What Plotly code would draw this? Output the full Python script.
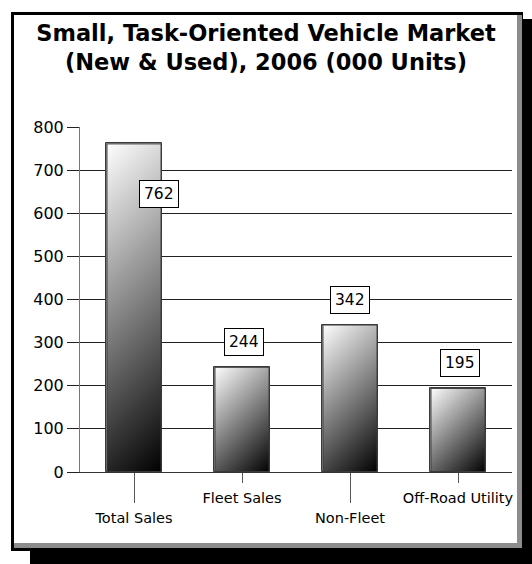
import base64
import plotly.graph_objects as go

# ---- data ----
categories = ["Total Sales", "Fleet Sales", "Non-Fleet", "Off-Road Utility"]
values = [762, 244, 342, 195]
y_tick_values = [0, 100, 200, 300, 400, 500, 600, 700, 800]
title_lines = ["Small, Task-Oriented Vehicle Market", "(New & Used), 2006 (000 Units)"]

# ---- layout constants ----
W, H = 532, 564
M_L, M_R, M_T, M_B = 80, 20, 127, 92
PW = W - M_L - M_R
PH = H - M_T - M_B
Y_MAX = 800
BAR_W = 0.51
FONT = "DejaVu Sans"

# label offsets (pixels) per category: (xshift, yshift)
label_offsets = [(25, -51), (2, 25), (0, 25), (2, 25)]


def px_x(px):
    return (px - M_L) / PW


def px_y(py):
    return (H - M_B - py) / PH


def grad_uri(v):
    w = BAR_W * PW / len(categories)
    h = v * PH / Y_MAX
    d = (w + h) / 2
    svg = (
        f'<svg xmlns="http://www.w3.org/2000/svg" width="{w:.2f}" height="{h:.2f}" '
        f'viewBox="0 0 {w:.2f} {h:.2f}" preserveAspectRatio="none">'
        f'<defs><linearGradient id="g" gradientUnits="userSpaceOnUse" x1="0" y1="0" '
        f'x2="{d:.2f}" y2="{d:.2f}"><stop offset="0" stop-color="#ffffff"/>'
        f'<stop offset="1" stop-color="#000000"/></linearGradient></defs>'
        f'<rect x="0.5" y="0.5" width="{w - 1.0:.2f}" height="{h - 1.0:.2f}" '
        f'fill="url(#g)" stroke="#3a3a3a" stroke-width="1"/></svg>'
    )
    return "data:image/svg+xml;base64," + base64.b64encode(svg.encode()).decode()


x_idx = list(range(len(categories)))

fig = go.Figure()
fig.add_trace(go.Bar(
    x=x_idx, y=values, width=BAR_W,
    marker=dict(color="#808080", line=dict(color="#3a3a3a", width=1)),
    hoverinfo="skip", showlegend=False,
))
fig.add_trace(go.Scatter(
    x=x_idx, y=[0] * len(x_idx), xaxis="x2", mode="markers",
    marker=dict(opacity=0), hoverinfo="skip", showlegend=False,
))

images = []
for i, v in enumerate(values):
    images.append(dict(
        source=grad_uri(v), xref="x", yref="y",
        x=i - BAR_W / 2, y=v, sizex=BAR_W, sizey=v,
        sizing="stretch", xanchor="left", yanchor="top", layer="above",
    ))

annotations = []
for i, v in enumerate(values):
    xs, ys = label_offsets[i]
    annotations.append(dict(
        x=i, y=v, xref="x", yref="y", text=str(v), showarrow=False,
        xshift=xs, yshift=ys,
        font=dict(family=FONT, size=15.5, color="black"),
        bgcolor="white", bordercolor="black", borderwidth=1, borderpad=4,
    ))

shapes = [
    # drop shadow
    dict(type="rect", xref="paper", yref="paper", layer="below",
         x0=px_x(30), x1=px_x(600), y0=px_y(19), y1=px_y(620),
         fillcolor="black", line=dict(width=0)),
    # frame border
    dict(type="rect", xref="paper", yref="paper", layer="below",
         x0=px_x(11), x1=px_x(523), y0=px_y(12), y1=px_y(551),
         fillcolor="black", line=dict(width=0)),
    # gray inner edge
    dict(type="rect", xref="paper", yref="paper", layer="below",
         x0=px_x(14), x1=px_x(522), y0=px_y(15), y1=px_y(548),
         fillcolor="#8c8c8c", line=dict(width=0)),
    # white face
    dict(type="rect", xref="paper", yref="paper", layer="below",
         x0=px_x(14), x1=px_x(517), y0=px_y(15), y1=px_y(543),
         fillcolor="white", line=dict(width=0)),
]

even = [i for i in x_idx if i % 2 == 0]
odd = [i for i in x_idx if i % 2 == 1]

fig.update_layout(
    width=W, height=H,
    margin=dict(l=M_L, r=M_R, t=M_T, b=M_B),
    paper_bgcolor="white", plot_bgcolor="rgba(0,0,0,0)",
    title=dict(
        text="<br>".join(title_lines),
        font=dict(family=FONT, size=22.5, color="black", weight="bold"),
        x=0.5, xref="container", xanchor="center",
        y=1 - 41 / H, yref="container", yanchor="top",
    ),
    xaxis=dict(
        range=[-0.5, len(categories) - 0.5],
        tickmode="array", tickvals=odd, ticktext=[categories[i] for i in odd],
        ticks="outside", ticklen=10, tickcolor="#555", tickwidth=1,
        ticklabelstandoff=3,
        showline=True, linecolor="#333", linewidth=1,
        showgrid=False, zeroline=False,
        tickfont=dict(family=FONT, size=14.5, color="black"),
    ),
    xaxis2=dict(
        overlaying="x", anchor="y", side="bottom",
        range=[-0.5, len(categories) - 0.5],
        tickmode="array", tickvals=even, ticktext=[categories[i] for i in even],
        ticks="outside", ticklen=30, tickcolor="#555", tickwidth=1,
        ticklabelstandoff=3,
        showline=False, showgrid=False, zeroline=False,
        tickfont=dict(family=FONT, size=14.5, color="black"),
    ),
    yaxis=dict(
        range=[0, Y_MAX], tickmode="array", tickvals=y_tick_values,
        ticks="outside", ticklen=12, tickcolor="#222", tickwidth=1,
        showgrid=True, gridcolor="#222", gridwidth=1,
        showline=True, linecolor="#777", linewidth=1,
        zeroline=False,
        tickfont=dict(family=FONT, size=16, color="black"),
    ),
    images=images,
    annotations=annotations,
    shapes=shapes,
    bargap=0,
)

fig.write_html("out.html")
